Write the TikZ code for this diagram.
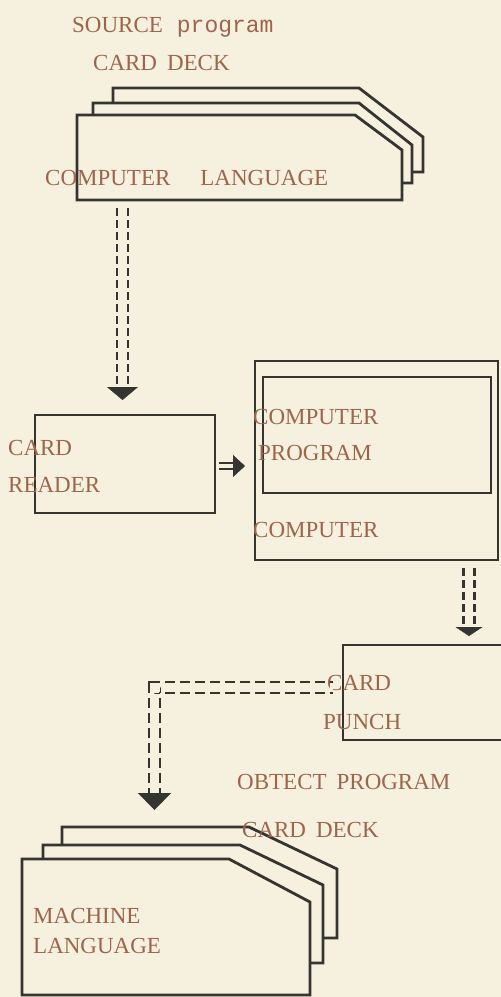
\documentclass[tikz,border=0pt]{standalone}
\usepackage{fontspec}
\setmainfont{Liberation Serif}
\setmonofont{Liberation Mono}
\usetikzlibrary{arrows.meta,positioning,calc}
\definecolor{paper}{RGB}{246,240,222}
\definecolor{ink}{RGB}{52,52,48}
\definecolor{labelink}{RGB}{156,102,76}
\tikzset{
  unit/.style={
    draw=ink,
    line width=2.8pt,
    inner sep=0pt
  },
  card/.style={draw=ink, line width=2.8pt, fill=paper, line join=miter},
  caption/.style={text=labelink, font=\fontsize{23}{27}\selectfont, inner sep=0pt, anchor=base west},
  flow/.style={draw=ink, line width=2.8pt, dash pattern=on 8pt off 4pt,
    double=paper, double distance=8.2pt, line join=miter},
  flowtip/.style n args={2}{draw=ink, line width=0.4pt, -{Triangle[width=#1, length=#2]}},
  feed/.style={draw=ink, line width=2.2pt, double=paper, double distance=3.6pt}
}
% one card of a deck: left, top, corner x, bottom, right, bevel y
\newcommand{\deckcard}[6]{\draw[card] (#1,#4) -- (#1,#2) -- (#3,#2) -- (#5,#6) -- (#5,#4) -- cycle;}

\begin{document}
\begin{tikzpicture}[x=1pt, y=-1pt]
  \fill[paper] (0,0) rectangle (501,997);
  \useasboundingbox (0,0) rectangle (501,997);
  % source deck
  \deckcard{113}{88}{359}{172}{423}{137}
  \deckcard{93}{103}{359}{183}{412}{145}
  \deckcard{77}{115}{355}{200}{402}{150}
  \node[caption] (srctitle) at (72,32) {SOURCE\hspace{14pt}\texttt{program}};
  \node[caption] (srcdeck)  at (93,70) {CARD\hspace{10pt}DECK};
  \node[caption] (srclang)  at (45,185) {COMPUTER\hspace{30pt}LANGUAGE};
  % machines
  \node[unit, minimum width=180pt, minimum height=98pt]  (reader)   at (125,464) {};
  \node[unit, minimum width=243pt, minimum height=199pt] (computer) at (376.5,460.5) {};
  \node[unit, minimum width=228pt, minimum height=116pt] (program)  at (377,435) {};
  \node[unit, minimum width=164pt, minimum height=95pt]  (punch)    at (425,692.5) {};
  \node[caption] (readerA) at (8,455) {CARD};
  \node[caption] (readerB) at (8,492) {READER};
  \node[caption] (programA) at (253,424) {COMPUTER};
  \node[caption] (programB) at (258,460) {PROGRAM};
  \node[caption] (computerA) at (253,537) {COMPUTER};
  \node[caption] (punchA) at (327,690) {CARD};
  \node[caption] (punchB) at (323,729) {PUNCH};
  % object deck
  \deckcard{62}{827}{249}{938}{337}{869}
  \deckcard{43}{845}{240}{963}{323}{885}
  \deckcard{22}{859}{229}{995}{310}{902}
  \node[caption] (objtitle) at (237,789) {OBTECT\hspace{10pt}PROGRAM};
  \node[caption] (objdeck)  at (242,837) {CARD\hspace{10pt}DECK};
  \node[caption] (objA) at (33,923) {MACHINE};
  \node[caption] (objB) at (33,953) {LANGUAGE};
  % connectors
  \coordinate (srcbase) at (122.5,208);
  \coordinate (h1) at (122.5,387);
  \coordinate (t1) at (122.5,400);
  \draw[flow] (srcbase) -- (h1);
  \draw[flowtip={31pt}{13pt}] (h1) -- (t1);
  \coordinate (f1) at ($(reader.east)+(3,2)$);
  \coordinate (f2) at (233,466);
  \coordinate (f3) at (245,466);
  \draw[feed] (f1) -- (f2);
  \draw[flowtip={22pt}{12pt}] (f2) -- (f3);
  \coordinate (compbase) at (469,568);
  \coordinate (h2) at (469,627);
  \coordinate (t2) at (469,636);
  \draw[flow] (compbase) -- (h2);
  \draw[flowtip={27pt}{9pt}] (h2) -- (t2);
  \coordinate (punchout) at (333,687.5);
  \coordinate (h3) at (154.5,793);
  \coordinate (t3) at (154.5,810);
  \draw[flow, dash pattern=on 10pt off 5pt, dash phase=6.5pt] (punchout) -| (h3);
  \draw[flowtip={33pt}{17pt}] (h3) -- (t3);
\end{tikzpicture}
\end{document}
